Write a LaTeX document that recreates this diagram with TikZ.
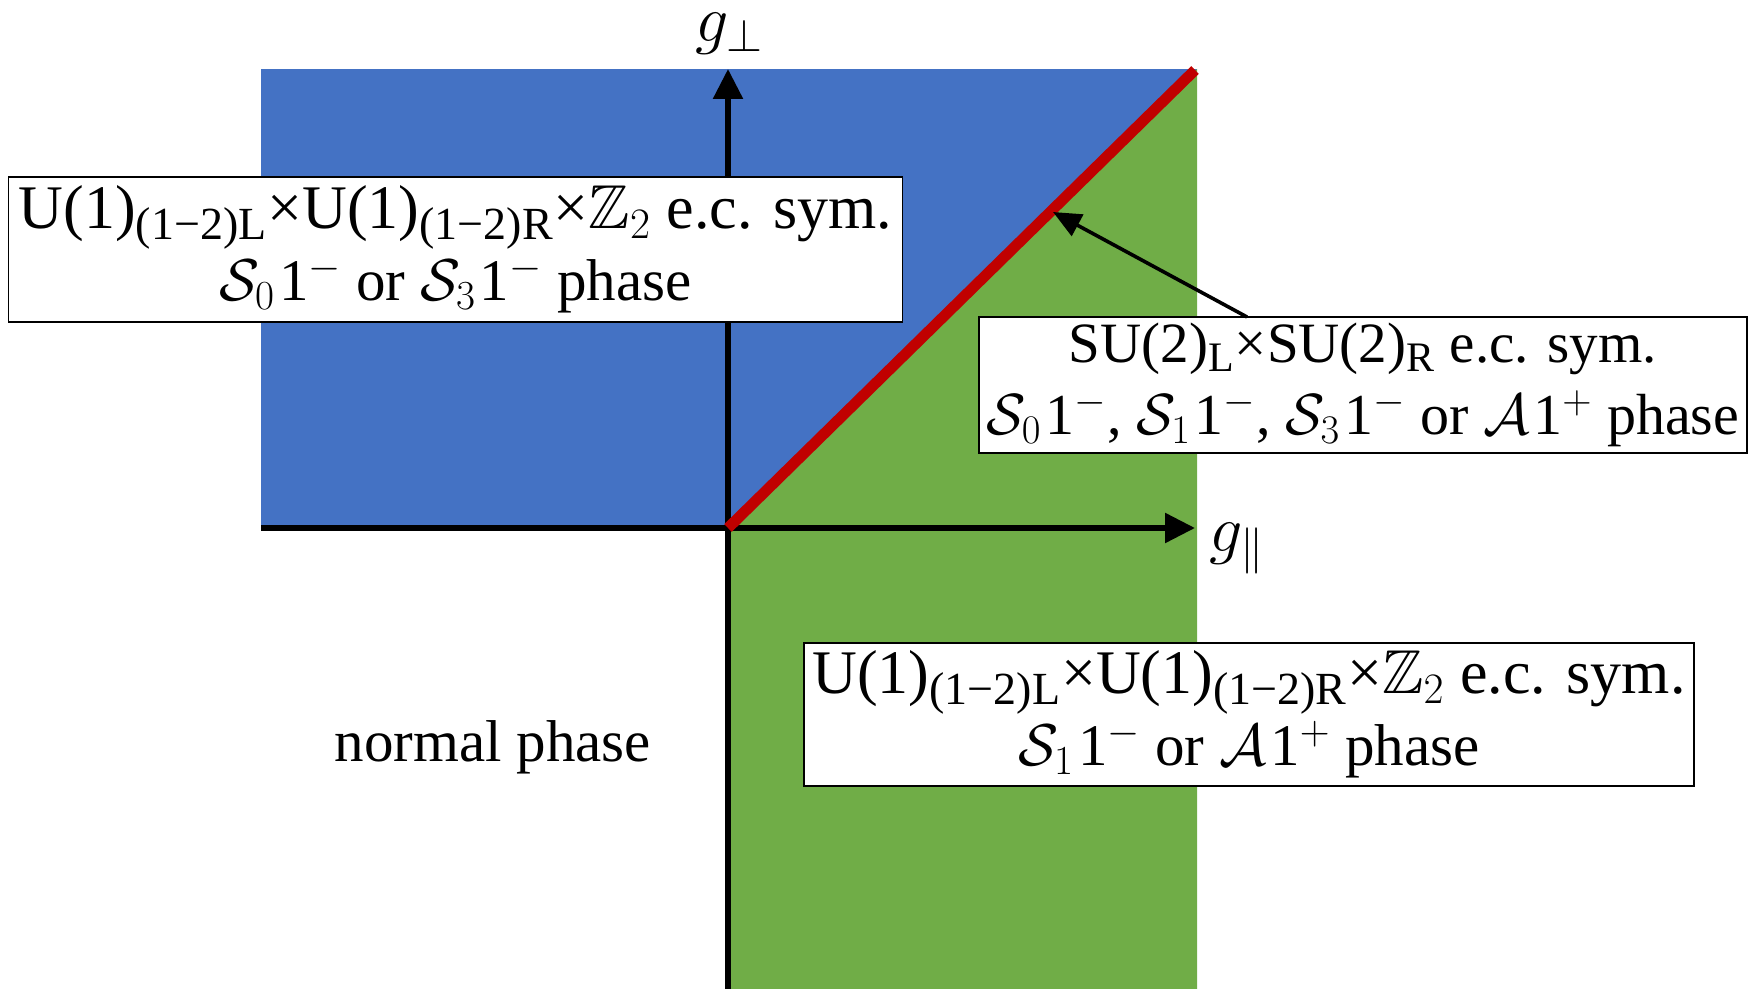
\RequirePackage{fix-cm}
\documentclass[tikz,border=0pt]{standalone}
\usepackage{amsmath,amssymb}
\usepackage{fontspec}
\setmainfont{Liberation Serif}
\usetikzlibrary{arrows.meta}
\definecolor{cblue}{HTML}{4472C4}
\definecolor{cgreen}{HTML}{70AD47}
\definecolor{cred}{HTML}{C00000}
\newcommand{\lsub}[1]{$_{\text{\fontsize{23}{23}\selectfont #1}}$}
\newcommand{\msub}[1]{$_{\text{\fontsize{21}{21}\selectfont #1}}$}
\newcommand{\fsz}[1]{\fontsize{#1}{36}\selectfont}
\newcommand{\gp}{\kern2pt}
\tikzset{
  axis/.style={line width=2.8pt, -{Triangle[length=15pt,width=14.5pt]}},
  infobox/.style={draw=black, line width=0.8pt, fill=white, align=center, inner sep=0pt,
    font=\fontsize{29.5}{36}\selectfont},
  pointer/.style={line width=1.8pt, -{Triangle[length=14pt,width=12pt]}},
  boundary/.style={cred, line width=5.4pt},
  axlabel/.style={inner sep=0pt, anchor=base, font=\fontsize{33}{40}\selectfont},
}
\begin{document}
\begin{tikzpicture}[x=0.5pt,y=-0.5pt]
\useasboundingbox (0,0) rectangle (1754,989);
% regions
\fill[cblue] (261,69) rectangle (1197,528);
\fill[cgreen] (728,528) -- (1197,69) -- (1197,989) -- (728,989) -- cycle;
% axes
\coordinate (O) at (728,528);
\coordinate (ybot) at (728,989);
\coordinate (ytop) at (728,69);
\coordinate (xleft) at (261,528);
\coordinate (xright) at (1195,528);
\draw[axis] (ybot) -- (ytop);
\draw[axis] (xleft) -- (xright);
% boundary line
\coordinate (redend) at (1195,70);
\draw[boundary] (O) -- (redend);
% labels
\node[axlabel] (gperp) at (729,42) {$g_\perp$};
\node[axlabel] (gpar) at (1237,551) {$g_\parallel$};
% boxes
\node[infobox, minimum width=447pt, minimum height=72.5pt] (b1) at (455.5,249.5)
  {{\fsz{31}U(1)\lsub{(1−2)L}×U(1)\lsub{(1−2)R}×$\mathbb{Z}_2$ e.c. sym.}\\
   $\mathcal{S}_0$\gp1$^-$ or $\mathcal{S}_3$\gp1$^-$ phase};
\node[infobox, minimum width=384pt, minimum height=68pt] (b2) at (1363,385)
  {{\fsz{28.5}SU(2)\msub{L}×SU(2)\msub{R} e.c. sym.}\\
   {\fsz{29}$\mathcal{S}_0$\gp1$^-$, $\mathcal{S}_1$\gp1$^-$, $\mathcal{S}_3$\gp1$^-$ or $\mathcal{A}$\gp1$^+$ phase}};
\node[infobox, minimum width=445pt, minimum height=71.5pt] (b3) at (1249,714.5)
  {{\fsz{31}U(1)\lsub{(1−2)L}×U(1)\lsub{(1−2)R}×$\mathbb{Z}_2$ e.c. sym.}\\
   $\mathcal{S}_1$\gp1$^-$ or $\mathcal{A}$\gp1$^+$ phase};
\node[font=\fontsize{29.5}{36}\selectfont, inner sep=0pt, anchor=base] (normal) at (493,761) {normal phase};
% pointer
\coordinate (astart) at (1247,317);
\coordinate (atip) at (1053,212);
\draw[pointer] (astart) -- (atip);
\end{tikzpicture}
\end{document}
